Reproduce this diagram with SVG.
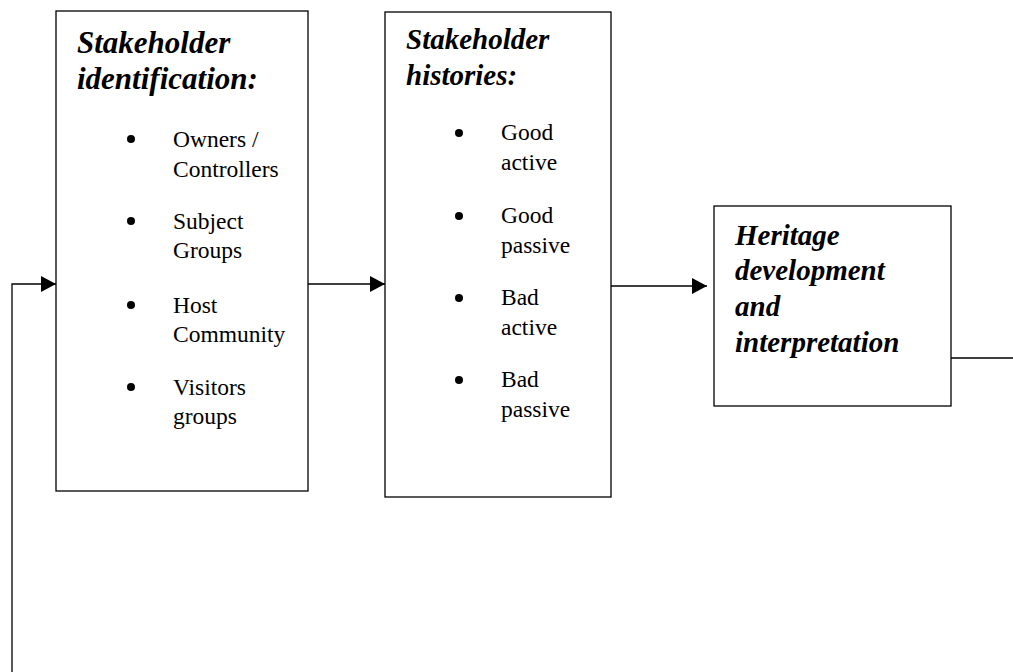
<svg xmlns="http://www.w3.org/2000/svg" width="1013" height="672" viewBox="0 0 1013 672">
<defs>
<style>
.box{fill:#fff;stroke:#000;stroke-width:1.3}
.conn{fill:none;stroke:#000;stroke-width:1.3}
.title{font-family:"Liberation Serif","Times New Roman",serif;font-weight:bold;font-style:italic;fill:#000}
.item{font-family:"Liberation Serif","Times New Roman",serif;font-size:23.5px;fill:#000}
.bul{fill:#000}
</style>
<marker id="ah" markerUnits="userSpaceOnUse" markerWidth="15" markerHeight="16" refX="15" refY="8" orient="auto">
<path d="M0,0 L15,8 L0,16 z" fill="#000"/>
</marker>
</defs>
<rect width="1013" height="672" fill="#fff"/>
<g id="connectors">
<path class="conn" d="M12,672 L12,284 L56,284" marker-end="url(#ah)"/>
<path class="conn" d="M308,284 L385,284" marker-end="url(#ah)"/>
<path class="conn" d="M611,286 L707,286" marker-end="url(#ah)"/>
<path class="conn" d="M951,358 L1013,358"/>
</g>
<g id="node-identification">
<rect class="box" x="56" y="11" width="252" height="480"/>
<text class="title" font-size="31" x="77" y="53">Stakeholder</text>
<text class="title" font-size="31" x="77" y="89">identification:</text>
<circle class="bul" cx="131" cy="139" r="4"/>
<text class="item" x="173" y="147">Owners /</text>
<text class="item" x="173" y="177">Controllers</text>
<circle class="bul" cx="131" cy="221" r="4"/>
<text class="item" x="173" y="229">Subject</text>
<text class="item" x="173" y="258">Groups</text>
<circle class="bul" cx="131" cy="305" r="4"/>
<text class="item" x="173" y="313">Host</text>
<text class="item" x="173" y="342">Community</text>
<circle class="bul" cx="131" cy="387" r="4"/>
<text class="item" x="173" y="395">Visitors</text>
<text class="item" x="173" y="424">groups</text>
</g>
<g id="node-histories">
<rect class="box" x="385" y="12" width="226" height="485"/>
<text class="title" font-size="29" x="406" y="49">Stakeholder</text>
<text class="title" font-size="29" x="406" y="85">histories:</text>
<circle class="bul" cx="459" cy="133" r="4"/>
<text class="item" x="501" y="140">Good</text>
<text class="item" x="501" y="170">active</text>
<circle class="bul" cx="459" cy="216" r="4"/>
<text class="item" x="501" y="223">Good</text>
<text class="item" x="501" y="253">passive</text>
<circle class="bul" cx="459" cy="298" r="4"/>
<text class="item" x="501" y="305">Bad</text>
<text class="item" x="501" y="335">active</text>
<circle class="bul" cx="459" cy="380" r="4"/>
<text class="item" x="501" y="387">Bad</text>
<text class="item" x="501" y="417">passive</text>
</g>
<g id="node-heritage">
<rect class="box" x="714" y="206" width="237" height="200"/>
<text class="title" font-size="29" x="735" y="245">Heritage</text>
<text class="title" font-size="29" x="735" y="280">development</text>
<text class="title" font-size="29" x="735" y="316">and</text>
<text class="title" font-size="29" x="735" y="352">interpretation</text>
</g>
</svg>
